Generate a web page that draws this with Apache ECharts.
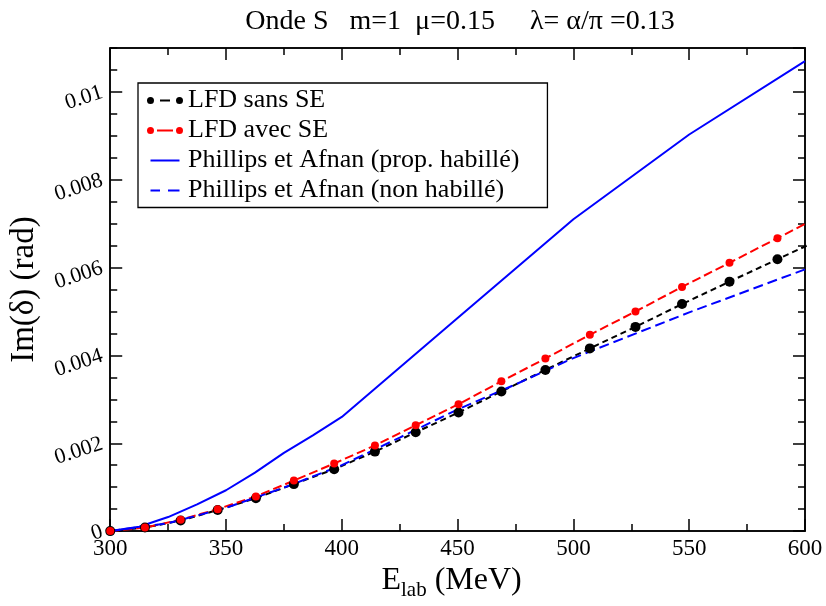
<!DOCTYPE html>
<html>
<head>
<meta charset="utf-8">
<script src="https://cdn.jsdelivr.net/npm/echarts@6/dist/echarts.min.js"></script>
<style>
html,body{margin:0;padding:0;background:#fff;}
#chart{width:826px;height:606px;}
</style>
</head>
<body>
<div id="chart"></div>
<script>
// ---- Data ----
const seriesNames = [
  'LFD sans SE',
  'LFD avec SE',
  'Phillips et Afnan (prop. habillé)',
  'Phillips et Afnan (non habillé)'
];
const lfdEnergies = [300, 315, 330.4, 346.4, 362.9, 379.3, 396.7, 414.3, 431.9, 450.4, 468.9, 487.9, 507.1, 526.8, 546.9, 567.4, 588.1, 609];
const lfdSansSE  = [0, 0.00008, 0.00024, 0.00048, 0.00075, 0.00107, 0.00141, 0.00181, 0.00225, 0.0027, 0.00318, 0.00367, 0.00416, 0.00465, 0.00517, 0.00568, 0.00619, 0.0067];
const lfdAvecSE  = [0, 0.00008, 0.00026, 0.0005, 0.00079, 0.00115, 0.00154, 0.00195, 0.00241, 0.00289, 0.00341, 0.00393, 0.00447, 0.005, 0.00556, 0.00611, 0.00667, 0.00724];
const paHabilleE = [300, 312.5, 325, 337.5, 350, 362.5, 375, 387.5, 400, 450, 500, 550, 600];
const paHabille  = [0, 0.0001, 0.00032, 0.00061, 0.00093, 0.00133, 0.00178, 0.00218, 0.0026, 0.00485, 0.0071, 0.00903, 0.0107];
const paNonHabE  = [300, 325, 350, 375, 400, 425, 450, 475, 500, 550, 600];
const paNonHab   = [0, 0.00018, 0.00053, 0.00099, 0.0015, 0.00213, 0.00277, 0.00334, 0.00394, 0.00498, 0.00596];
const xMin = 300, xMax = 600, xMajor = 50, xMinor = 25;
const yMin = 0, yMax = 0.011, yMajor = 0.002, yMinor = 0.0005;
const titleText = 'Onde S   m=1  \u03bc=0.15     \u03bb= \u03b1/\u03c0 =0.13';

const pairs = (xs, ys) => xs.map((x, i) => [x, ys[i]]);
const FONT = 'Liberation Serif';

// legend icons (36 x 14 box), xmgrace style
const B = 'M0 0 M36 14 ';
const circ = (cx) => `M${cx - 3.5} 7 a3.5 3.5 0 1 0 7 0 a3.5 3.5 0 1 0 -7 0 Z `;
const rect = (x0, x1) => `M${x0} 6 L${x1} 6 L${x1} 8 L${x0} 8 Z `;
const legendIcons = [
  'path://' + B + circ(3.5) + rect(13, 23) + circ(32.5),
  'path://' + B + circ(3.5) + rect(10, 26) + circ(32.5),
  'path://' + B + rect(3.5, 32.5),
  'path://' + B + rect(3.5, 13) + rect(21, 32.5)
];

function xAx(pos, interval, len, labels) {
  return {
    type: 'value', position: pos, min: xMin, max: xMax, interval: interval,
    axisLine: { show: true, onZero: false, lineStyle: { color: '#000', width: 1.5 } },
    axisTick: { show: true, inside: true, length: len, lineStyle: { color: '#000', width: 1.5 } },
    axisLabel: { show: labels, color: '#000', fontFamily: FONT, fontSize: 23, margin: 6 },
    splitLine: { show: false }
  };
}
function yAx(pos, interval, len, labels) {
  return {
    type: 'value', position: pos, min: yMin, max: yMax, interval: interval,
    axisLine: { show: true, onZero: false, lineStyle: { color: '#000', width: 1.5 } },
    axisTick: { show: true, inside: true, length: len, lineStyle: { color: '#000', width: 1.5 } },
    axisLabel: { show: labels, color: '#000', fontFamily: FONT, fontSize: 22, margin: 8, rotate: 18,
      showMaxLabel: false,
      formatter: v => (v === 0 ? '0' : String(+v.toFixed(4))) },
    splitLine: { show: false }
  };
}

const xAxes = [
  Object.assign(xAx('bottom', xMajor, 12, true), {
    name: '{e|E}{s|lab}{t| (MeV)}', nameLocation: 'middle', nameGap: 29,
    nameTextStyle: { color: '#000', fontFamily: FONT, padding: [0, 12, 0, 0],
      rich: {
        e: { fontFamily: FONT, fontSize: 32, color: '#000', verticalAlign: 'top', lineHeight: 32 },
        s: { fontFamily: FONT, fontSize: 21, color: '#000', verticalAlign: 'top', lineHeight: 21, padding: [15, 0, 0, 0] },
        t: { fontFamily: FONT, fontSize: 32, color: '#000', verticalAlign: 'top', lineHeight: 32 }
      } }
  }),
  xAx('bottom', xMinor, 7, false),
  xAx('top', xMajor, 12, false),
  xAx('top', xMinor, 7, false)
];
const yAxes = [
  Object.assign(yAx('left', yMajor, 12, true), {
    name: 'Im(\u03b4) (rad)', nameLocation: 'middle', nameGap: 60, nameRotate: 90,
    nameTextStyle: { color: '#000', fontFamily: FONT, fontSize: 33 }
  }),
  yAx('left', yMinor, 7, false),
  yAx('right', yMajor, 12, false),
  yAx('right', yMinor, 7, false)
];

const chart = echarts.init(document.getElementById('chart'), null, { renderer: 'canvas' });
chart.setOption({
  animation: false,
  backgroundColor: '#fff',
  textStyle: { fontFamily: FONT },
  title: {
    text: titleText, left: 455, top: 3, textAlign: 'center',
    textStyle: { fontFamily: FONT, fontSize: 28, fontWeight: 'normal', color: '#000' }
  },
  grid: { left: 105, right: 21, top: 48, bottom: 68, containLabel: false },
  legend: {
    orient: 'vertical', left: 138, top: 83,
    data: seriesNames.map((n, i) => ({ name: n, icon: legendIcons[i] })),
    backgroundColor: '#fff',
    borderColor: '#000', borderWidth: 1.3, borderRadius: 0,
    padding: [4.5, 28, 4, 9],
    itemWidth: 36, itemHeight: 14, itemGap: 4,
    itemStyle: { borderWidth: 0 },
    textStyle: { fontFamily: FONT, fontSize: 26, color: '#000', lineHeight: 24 }
  },
  xAxis: xAxes,
  yAxis: yAxes,
  series: [
    {
      name: seriesNames[0], type: 'line', data: pairs(lfdEnergies, lfdSansSE),
      symbol: 'circle', symbolSize: 10, showAllSymbol: true, clip: true,
      itemStyle: { color: '#000' },
      lineStyle: { color: '#000', width: 2, type: [6, 4] }
    },
    {
      name: seriesNames[1], type: 'line', data: pairs(lfdEnergies, lfdAvecSE),
      symbol: 'circle', symbolSize: 8, showAllSymbol: true, clip: true,
      itemStyle: { color: '#ff0000' },
      lineStyle: { color: '#ff0000', width: 2, type: [9, 4] }
    },
    {
      name: seriesNames[2], type: 'line', data: pairs(paHabilleE, paHabille),
      symbol: 'none', clip: true,
      itemStyle: { color: '#0000ff' },
      lineStyle: { color: '#0000ff', width: 2, type: 'solid' }
    },
    {
      name: seriesNames[3], type: 'line', data: pairs(paNonHabE, paNonHab),
      symbol: 'none', clip: true,
      itemStyle: { color: '#0000ff' },
      lineStyle: { color: '#0000ff', width: 2, type: [10, 5] }
    }
  ]
});
</script>
</body>
</html>
